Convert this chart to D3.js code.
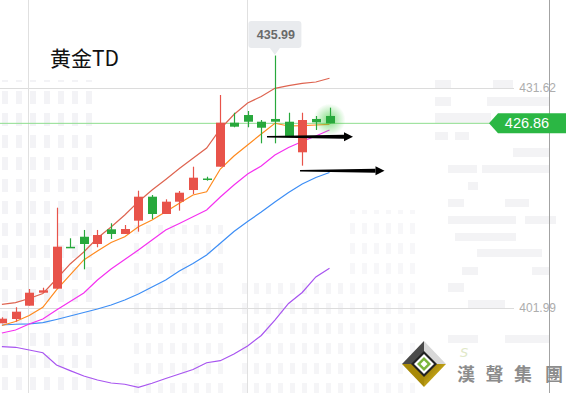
<!DOCTYPE html>
<html><head><meta charset="utf-8">
<script src="https://cdn.jsdelivr.net/npm/d3@7"></script>
<style>html,body{margin:0;padding:0;background:#fff;overflow:hidden}svg{display:block}</style>
</head><body><div id="chart"></div>
<script>
// ---- data ----
const title = "黄金TD";
const open  = [399.93,400.51,402.30,404.05,404.59,410.23,411.59,410.61,412.59,411.96,413.75,416.98,414.65,416.31,417.88,419.43,421.02,426.95,427.98,427.08,427.45,427.08,422.96,427.45,427.85];
const high  = [400.74,402.09,404.55,404.72,415.50,411.38,412.50,412.50,413.40,413.17,417.79,417.21,416.63,417.75,421.02,419.67,430.68,428.29,428.52,427.31,435.99,428.29,428.29,427.85,428.97];
const low   = [399.93,400.15,402.30,404.05,404.59,410.11,407.20,410.17,411.28,411.96,412.27,413.98,414.65,415.10,417.34,419.14,421.02,426.33,426.33,424.17,424.17,425.16,421.16,425.96,426.86];
const close = [400.55,401.49,404.05,404.37,410.25,410.11,410.61,411.82,411.96,412.63,416.98,414.65,416.31,417.52,419.54,419.38,426.95,426.41,427.08,426.27,427.08,425.16,427.31,427.00,426.86];
const upperBand = [402.49,402.71,403.27,403.94,405.90,407.92,409.53,411.42,412.90,414.52,416.31,417.88,419.30,420.78,422.15,423.54,426.10,428.05,429.60,430.48,431.58,431.93,432.25,432.43,432.93];
const maOrange  = [399.63,400.17,400.98,402.09,404.42,406.44,408.46,409.67,410.81,411.59,412.94,413.84,414.96,416.09,417.21,417.65,420.71,422.46,423.94,425.43,426.87,426.50,426.54,426.64,426.73];
const maMagenta = [398.62,399.03,399.84,400.51,401.72,402.87,404.01,405.76,407.24,408.52,409.80,411.15,412.50,413.37,414.29,415.19,416.94,418.56,420.04,421.12,422.60,423.61,424.42,425.16,425.96];
const maBlue    = [399.70,399.80,399.84,400.01,400.44,400.91,401.38,401.86,402.40,403.07,403.88,404.82,405.76,406.97,407.98,409.13,410.70,412.29,413.64,414.92,416.27,417.55,418.69,419.57,420.24];
const lowerBand = [396.78,396.70,396.33,395.97,394.31,393.55,392.83,392.29,391.89,391.72,391.31,391.85,392.50,393.10,393.71,394.62,394.89,395.80,396.87,398.29,400.37,402.60,404.08,406.17,407.34];
const yTicks = [431.62, 401.99];
const xGridIdx = [2, 18];
const lastPrice = 426.86;
const highMark = {idx: 20, value: 435.99};
const arrows = [{from: 19.42, to: 25.72, value: 425.06}, {from: 21.84, to: 28.03, value: 420.48}];
const logoChars = ["漢","聲","集","團"];

// ---- layout ----
const W = 566, H = 393;
const svg = d3.select("#chart").append("svg").attr("width", W).attr("height", H);
const idx = open.map((_, i) => i);
const x = d3.scaleLinear().domain([0, 24]).range([1.9, 329.5]);
const y = d3.scaleLinear().domain([401.99, 431.62]).range([308, 88]);

const defs = svg.append("defs");
const pat = defs.append("pattern").attr("id","win").attr("width",14).attr("height",22).attr("patternUnits","userSpaceOnUse");
pat.append("rect").attr("x",2).attr("y",3).attr("width",6).attr("height",13).attr("fill","#f3f3f6");
const pat2 = defs.append("pattern").attr("id","win2").attr("width",12).attr("height",20).attr("patternUnits","userSpaceOnUse");
pat2.append("rect").attr("x",2).attr("y",3).attr("width",5).attr("height",11).attr("fill","#f5f5f7");
const glow = defs.append("radialGradient").attr("id","glow");
glow.append("stop").attr("offset","0%").attr("stop-color","#4ccf4c").attr("stop-opacity",0.7);
glow.append("stop").attr("offset","100%").attr("stop-color","#4ccf4c").attr("stop-opacity",0);
const gold = defs.append("linearGradient").attr("id","gold").attr("x1",0).attr("y1",0).attr("x2",1).attr("y2",1);
gold.append("stop").attr("offset","0%").attr("stop-color","#8a6d00");
gold.append("stop").attr("offset","100%").attr("stop-color","#f2d22a");

// background watermark (decorative)
const bg = svg.append("g");
bg.append("rect").attr("x",0).attr("y",80).attr("width",100).attr("height",313).attr("fill","url(#win)");
bg.append("rect").attr("x",128).attr("y",225).attr("width",100).attr("height",168).attr("fill","url(#win2)");
bg.append("rect").attr("x",240).attr("y",280).attr("width",110).attr("height",113).attr("fill","url(#win2)");
bg.append("rect").attr("x",345).attr("y",210).attr("width",70).attr("height",183).attr("fill","url(#win2)").attr("opacity",0.8);
const bars = [[435,80,16,9],[493,80,20,9],[435,97,16,9],[487,97,62,9],[435,113,56,10],[435,132,13,8],[455,132,14,8],[513,148,36,9],[448,165,29,8],[482,165,67,8],[468,182,10,8],[448,199,16,8],[505,199,24,8],[448,216,68,8],[525,216,31,8],[455,233,61,8],[477,249,65,8],[462,267,16,8],[532,267,17,8],[448,283,16,9],[468,300,37,8],[448,335,30,8],[505,335,44,8]];
bg.selectAll("rect.bar").data(bars).join("rect").attr("class","bar")
  .attr("x",d=>d[0]).attr("y",d=>d[1]).attr("width",d=>d[2]).attr("height",d=>d[3]).attr("fill","#f3f3f5");

// grid
const grid = svg.append("g");
grid.selectAll("line.h").data(yTicks).join("line").attr("class","h")
  .attr("x1",0).attr("x2",514).attr("y1",d=>Math.round(y(d))+0.5).attr("y2",d=>Math.round(y(d))+0.5)
  .attr("stroke","#dcdcdc").attr("stroke-width",1);
grid.selectAll("line.v").data(xGridIdx).join("line").attr("class","v")
  .attr("x1",d=>Math.round(x(d))-0.5).attr("x2",d=>Math.round(x(d))-0.5).attr("y1",0).attr("y2",H)
  .attr("stroke","#e0e0e0").attr("stroke-width",1);
grid.append("line").attr("x1",549.5).attr("x2",549.5).attr("y1",0).attr("y2",H).attr("stroke","#a3a3a3");

// y axis labels
const yAxis = d3.axisLeft(y).tickValues(yTicks).tickSize(0).tickPadding(0).tickFormat(d3.format(".2f"));
const ag = svg.append("g").attr("transform","translate(556,0)").call(yAxis);
ag.select(".domain").remove();
ag.selectAll("text").attr("font-family","'Liberation Sans', Arial, sans-serif").attr("font-size",12).attr("fill","#adadad");

// last price line
svg.append("line").attr("x1",0).attr("x2",490).attr("y1",y(lastPrice)).attr("y2",y(lastPrice)).attr("stroke","#8ede8e").attr("stroke-width",1);

// title
svg.append("text").attr("x",50).attr("y",66).text(title)
  .attr("font-family","'Noto Sans CJK SC', sans-serif").attr("font-size",21).attr("fill","#111");

// lines
const lineGen = d3.line().x((d,i)=>x(i)).y(d=>y(d));
const series = [[lowerBand,"#a855f0"],[maBlue,"#3d8ef5"],[maMagenta,"#f531f0"],[maOrange,"#ff8a1e"],[upperBand,"#de6450"]];
svg.append("g").selectAll("path").data(series).join("path")
  .attr("d",d=>lineGen(d[0])).attr("fill","none").attr("stroke",d=>d[1]).attr("stroke-width",1.2);

// glow on last candle
svg.append("circle").attr("cx",x(24)).attr("cy",y((open[24]+close[24])/2)).attr("r",16).attr("fill","url(#glow)");

// candles
const UP = "#e8534a", DOWN = "#28a83c";
const cw = 9;
const cg = svg.append("g").selectAll("g").data(idx).join("g");
cg.append("line").attr("x1",i=>Math.round(x(i))+0.5).attr("x2",i=>Math.round(x(i))+0.5)
  .attr("y1",i=>y(high[i])).attr("y2",i=>y(low[i]))
  .attr("stroke",i=>close[i]>=open[i]?UP:DOWN).attr("stroke-width",1.2);
cg.append("rect").attr("x",i=>Math.round(x(i))+0.5-cw/2).attr("width",cw)
  .attr("y",i=>y(Math.max(open[i],close[i])))
  .attr("height",i=>Math.max(1.5, y(Math.min(open[i],close[i]))-y(Math.max(open[i],close[i]))))
  .attr("fill",i=>close[i]>=open[i]?UP:DOWN);

// arrows
const ar = svg.append("g");
arrows.forEach(a=>{
  const x1 = x(a.from), xt = x(a.to), yy = y(a.value), xh = xt-9;
  ar.append("path").attr("d",`M${x1},${yy-0.7} L${xh},${yy-2} L${xh},${yy+2} L${x1},${yy+0.7} Z`).attr("fill","#000");
  ar.append("path").attr("d",`M${xh},${yy-4.5} L${xt},${yy} L${xh},${yy+4.5} Z`).attr("fill","#000");
});

// high tooltip
const hx = x(highMark.idx), hy = y(highMark.value);
const tt = svg.append("g");
tt.append("path").attr("d",`M${hx-23.5},${hy-34.6} h47 a3,3 0 0 1 3,3 v21 a3,3 0 0 1 -3,3 h-18.5 l-5,7 l-5,-7 h-18.5 a3,3 0 0 1 -3,-3 v-21 a3,3 0 0 1 3,-3 Z`).attr("fill","#e9ebee");
tt.append("text").attr("x",hx+1).attr("y",hy-17).attr("text-anchor","middle").text(highMark.value.toFixed(2))
  .attr("font-family","'Liberation Sans', Arial, sans-serif").attr("font-size",12.5).attr("font-weight","bold").attr("fill","#6a6a6a");

// last price label
const ly = y(lastPrice);
svg.append("path").attr("d",`M489,${ly} L498,${ly-10} L566,${ly-10} L566,${ly+10} L498,${ly+10} Z`).attr("fill","#2bb744");
svg.append("text").attr("x",527).attr("y",ly+5).attr("text-anchor","middle").text(lastPrice.toFixed(2))
  .attr("font-family","'Liberation Sans', Arial, sans-serif").attr("font-size",14.5).attr("fill","#fff");

// logo
const lg = svg.append("g");
const cx = 424, cy = 364;
lg.append("path").attr("d",`M${cx},${cy-23} L${cx-22},${cy} L${cx},${cy} Z`).attr("fill","#4a4a4a");
lg.append("path").attr("d",`M${cx},${cy-23} L${cx+22},${cy} L${cx},${cy} Z`).attr("fill","#d8d8d8");
lg.append("path").attr("d",`M${cx-22},${cy} L${cx},${cy+23} L${cx},${cy} Z`).attr("fill","#a88a08");
lg.append("path").attr("d",`M${cx+22},${cy} L${cx},${cy+23} L${cx},${cy} Z`).attr("fill","url(#gold)");
lg.append("path").attr("d",`M${cx},${cy-13} L${cx+13},${cy} L${cx},${cy+13} L${cx-13},${cy} Z`).attr("fill","#222");
lg.append("path").attr("d",`M${cx},${cy-10} L${cx+10},${cy} L${cx},${cy+10} L${cx-10},${cy} Z`).attr("fill","#fff");
lg.append("path").attr("d",`M${cx},${cy-7} L${cx+7},${cy} L${cx},${cy+7} L${cx-7},${cy} Z`).attr("fill","#7bb63c");
lg.append("path").attr("d",`M${cx},${cy-3.5} L${cx+3.5},${cy} L${cx},${cy+3.5} L${cx-3.5},${cy} Z`).attr("fill","#fff");
lg.append("text").attr("x",460).attr("y",357).text("S").attr("font-family","'DejaVu Sans', sans-serif").attr("font-size",13).attr("font-style","italic").attr("fill","#dfe8c8");
const charX = [457, 485.5, 514, 545];
lg.append("g").selectAll("text").data(logoChars).join("text")
  .attr("x",(d,i)=>charX[i]).attr("y",381).text(d=>d)
  .attr("font-family","'Noto Sans CJK TC', sans-serif").attr("font-size",18).attr("font-weight","bold").attr("fill","#8c8c8c");
</script></body></html>
